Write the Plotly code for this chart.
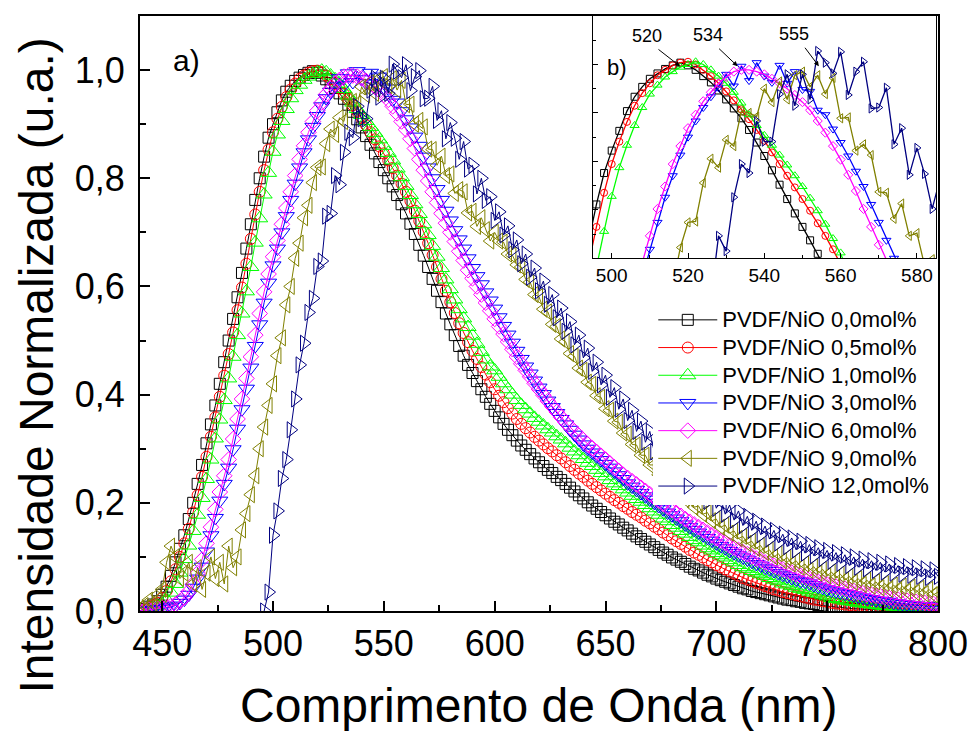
import plotly.graph_objects as go

# Wavelength grid (nm), one sample every 2 nm
wavelength = list(range(440, 801, 2))

# Normalised PL intensity for each NiO content
pvdf_00 = [
    0.000, 0.004, 0.008, 0.012, 0.018, 0.030, 0.045, 0.065, 0.090, 0.115,
    0.140, 0.170, 0.200, 0.235, 0.270, 0.310, 0.345, 0.380, 0.420, 0.460,
    0.500, 0.540, 0.580, 0.625, 0.670, 0.715, 0.760, 0.800, 0.840, 0.875,
    0.900, 0.922, 0.944, 0.960, 0.971, 0.980, 0.986, 0.991, 0.995, 0.998,
    0.995, 0.990, 0.983, 0.976, 0.967, 0.957, 0.947, 0.936, 0.923, 0.909,
    0.894, 0.878, 0.862, 0.846, 0.830, 0.815, 0.800, 0.785, 0.769, 0.752,
    0.735, 0.716, 0.697, 0.677, 0.657, 0.636, 0.614, 0.592, 0.571, 0.550,
    0.530, 0.510, 0.490, 0.472, 0.455, 0.440, 0.425, 0.410, 0.396, 0.383,
    0.370, 0.358, 0.346, 0.335, 0.325, 0.315, 0.306, 0.298, 0.290, 0.282,
    0.275, 0.268, 0.261, 0.255, 0.248, 0.242, 0.235, 0.228, 0.221, 0.214,
    0.208, 0.201, 0.195, 0.189, 0.183, 0.177, 0.171, 0.165, 0.160, 0.154,
    0.149, 0.143, 0.138, 0.133, 0.128, 0.123, 0.118, 0.113, 0.108, 0.104,
    0.099, 0.095, 0.091, 0.087, 0.082, 0.078, 0.075, 0.071, 0.067, 0.064,
    0.060, 0.057, 0.054, 0.051, 0.048, 0.045, 0.042, 0.040, 0.037, 0.035,
    0.033, 0.031, 0.029, 0.027, 0.025, 0.023, 0.021, 0.020, 0.018, 0.017,
    0.015, 0.014, 0.013, 0.011, 0.010, 0.009, 0.008, 0.007, 0.006, 0.005,
    0.005, 0.004, 0.004, 0.003, 0.003, 0.003, 0.002, 0.002, 0.002, 0.002,
    0.002, 0.001, 0.001, 0.001, 0.001, 0.001, 0.001, 0.000, 0.000, 0.000,
    0.000]

pvdf_05 = [
    0.000, 0.003, 0.006, 0.010, 0.015, 0.024, 0.037, 0.055, 0.077, 0.100,
    0.125, 0.152, 0.182, 0.214, 0.248, 0.285, 0.322, 0.358, 0.396, 0.435,
    0.475, 0.515, 0.556, 0.598, 0.642, 0.688, 0.733, 0.775, 0.815, 0.853,
    0.885, 0.910, 0.932, 0.950, 0.964, 0.975, 0.984, 0.990, 0.995, 0.998,
    0.999, 0.996, 0.990, 0.983, 0.975, 0.966, 0.956, 0.946, 0.935, 0.923,
    0.911, 0.898, 0.885, 0.872, 0.859, 0.846, 0.833, 0.819, 0.805, 0.790,
    0.775, 0.758, 0.740, 0.721, 0.701, 0.680, 0.658, 0.636, 0.614, 0.592,
    0.571, 0.551, 0.532, 0.514, 0.497, 0.481, 0.466, 0.451, 0.437, 0.423,
    0.410, 0.398, 0.386, 0.375, 0.365, 0.355, 0.346, 0.338, 0.330, 0.322,
    0.315, 0.308, 0.301, 0.295, 0.288, 0.282, 0.275, 0.268, 0.261, 0.254,
    0.248, 0.241, 0.235, 0.229, 0.223, 0.217, 0.211, 0.205, 0.200, 0.194,
    0.189, 0.183, 0.178, 0.173, 0.167, 0.162, 0.156, 0.151, 0.145, 0.140,
    0.134, 0.129, 0.124, 0.119, 0.113, 0.108, 0.104, 0.099, 0.094, 0.090,
    0.085, 0.081, 0.077, 0.073, 0.069, 0.065, 0.061, 0.058, 0.055, 0.052,
    0.049, 0.046, 0.043, 0.040, 0.038, 0.035, 0.033, 0.031, 0.029, 0.027,
    0.025, 0.023, 0.021, 0.020, 0.018, 0.017, 0.015, 0.014, 0.013, 0.012,
    0.011, 0.010, 0.009, 0.008, 0.007, 0.007, 0.006, 0.006, 0.005, 0.005,
    0.004, 0.004, 0.004, 0.003, 0.003, 0.003, 0.003, 0.002, 0.002, 0.002,
    0.002]

pvdf_10 = [
    0.000, 0.002, 0.004, 0.006, 0.009, 0.013, 0.021, 0.034, 0.050, 0.071,
    0.096, 0.121, 0.148, 0.178, 0.209, 0.244, 0.280, 0.319, 0.354, 0.390,
    0.430, 0.470, 0.510, 0.550, 0.591, 0.636, 0.681, 0.726, 0.770, 0.810,
    0.849, 0.881, 0.906, 0.928, 0.948, 0.963, 0.973, 0.982, 0.988, 0.993,
    0.996, 0.999, 0.996, 0.990, 0.983, 0.975, 0.965, 0.953, 0.940, 0.928,
    0.917, 0.906, 0.895, 0.884, 0.872, 0.860, 0.847, 0.833, 0.818, 0.802,
    0.786, 0.769, 0.752, 0.734, 0.715, 0.695, 0.675, 0.655, 0.634, 0.613,
    0.595, 0.576, 0.558, 0.541, 0.525, 0.509, 0.494, 0.479, 0.465, 0.452,
    0.445, 0.433, 0.421, 0.410, 0.400, 0.390, 0.381, 0.373, 0.365, 0.357,
    0.350, 0.343, 0.336, 0.330, 0.323, 0.317, 0.310, 0.302, 0.295, 0.288,
    0.281, 0.274, 0.268, 0.261, 0.255, 0.249, 0.242, 0.236, 0.231, 0.225,
    0.219, 0.213, 0.207, 0.202, 0.196, 0.190, 0.184, 0.178, 0.171, 0.166,
    0.159, 0.154, 0.148, 0.143, 0.137, 0.131, 0.127, 0.121, 0.116, 0.112,
    0.107, 0.103, 0.099, 0.094, 0.090, 0.085, 0.081, 0.078, 0.074, 0.071,
    0.068, 0.065, 0.061, 0.058, 0.055, 0.051, 0.049, 0.046, 0.043, 0.041,
    0.039, 0.036, 0.034, 0.032, 0.029, 0.027, 0.024, 0.022, 0.021, 0.019,
    0.018, 0.017, 0.015, 0.014, 0.013, 0.012, 0.011, 0.010, 0.009, 0.009,
    0.008, 0.008, 0.008, 0.007, 0.007, 0.006, 0.006, 0.005, 0.005, 0.005,
    0.005]

pvdf_30 = [
    0.000, 0.001, 0.001, 0.002, 0.003, 0.004, 0.006, 0.008, 0.010, 0.015,
    0.021, 0.030, 0.043, 0.060, 0.082, 0.110, 0.140, 0.172, 0.204, 0.235,
    0.265, 0.299, 0.337, 0.373, 0.411, 0.450, 0.490, 0.530, 0.570, 0.607,
    0.639, 0.670, 0.700, 0.730, 0.760, 0.790, 0.820, 0.848, 0.872, 0.895,
    0.915, 0.933, 0.948, 0.960, 0.970, 0.985, 0.972, 0.994, 0.978, 0.998,
    0.983, 0.976, 0.995, 0.975, 0.988, 0.968, 0.966, 0.945, 0.940, 0.924,
    0.909, 0.894, 0.877, 0.860, 0.840, 0.820, 0.800, 0.780, 0.760, 0.740,
    0.722, 0.704, 0.687, 0.670, 0.652, 0.634, 0.619, 0.604, 0.589, 0.574,
    0.559, 0.543, 0.527, 0.511, 0.496, 0.481, 0.466, 0.452, 0.439, 0.426,
    0.413, 0.401, 0.389, 0.377, 0.366, 0.355, 0.345, 0.335, 0.326, 0.317,
    0.308, 0.300, 0.293, 0.286, 0.279, 0.272, 0.265, 0.258, 0.251, 0.244,
    0.236, 0.230, 0.224, 0.218, 0.212, 0.206, 0.200, 0.194, 0.188, 0.182,
    0.177, 0.171, 0.166, 0.160, 0.155, 0.150, 0.145, 0.140, 0.135, 0.130,
    0.125, 0.120, 0.116, 0.111, 0.107, 0.103, 0.099, 0.095, 0.091, 0.087,
    0.084, 0.080, 0.077, 0.074, 0.070, 0.067, 0.064, 0.061, 0.058, 0.055,
    0.054, 0.051, 0.048, 0.045, 0.043, 0.040, 0.038, 0.036, 0.034, 0.032,
    0.031, 0.029, 0.027, 0.025, 0.023, 0.022, 0.020, 0.019, 0.018, 0.017,
    0.015, 0.014, 0.013, 0.012, 0.011, 0.010, 0.009, 0.009, 0.008, 0.008,
    0.008]

pvdf_60 = [
    0.000, 0.001, 0.002, 0.003, 0.004, 0.005, 0.007, 0.009, 0.012, 0.018,
    0.025, 0.036, 0.050, 0.070, 0.095, 0.125, 0.155, 0.188, 0.220, 0.250,
    0.280, 0.318, 0.355, 0.392, 0.430, 0.470, 0.510, 0.550, 0.590, 0.623,
    0.655, 0.685, 0.715, 0.745, 0.775, 0.805, 0.835, 0.860, 0.885, 0.905,
    0.925, 0.940, 0.955, 0.965, 0.975, 0.982, 0.988, 0.990, 0.990, 0.988,
    0.985, 0.980, 0.975, 0.969, 0.962, 0.954, 0.945, 0.933, 0.920, 0.905,
    0.890, 0.873, 0.855, 0.835, 0.815, 0.795, 0.775, 0.755, 0.735, 0.717,
    0.700, 0.683, 0.665, 0.648, 0.630, 0.615, 0.600, 0.585, 0.570, 0.555,
    0.540, 0.526, 0.512, 0.498, 0.484, 0.470, 0.457, 0.445, 0.433, 0.421,
    0.410, 0.399, 0.388, 0.378, 0.368, 0.358, 0.349, 0.340, 0.332, 0.324,
    0.316, 0.308, 0.301, 0.294, 0.287, 0.280, 0.273, 0.266, 0.259, 0.252,
    0.246, 0.240, 0.234, 0.228, 0.222, 0.216, 0.210, 0.204, 0.198, 0.192,
    0.187, 0.181, 0.176, 0.170, 0.165, 0.160, 0.155, 0.150, 0.145, 0.140,
    0.135, 0.130, 0.126, 0.121, 0.117, 0.113, 0.109, 0.105, 0.101, 0.097,
    0.094, 0.090, 0.087, 0.084, 0.080, 0.077, 0.074, 0.071, 0.068, 0.065,
    0.063, 0.060, 0.057, 0.054, 0.052, 0.049, 0.047, 0.045, 0.043, 0.041,
    0.039, 0.037, 0.035, 0.033, 0.031, 0.030, 0.028, 0.027, 0.025, 0.024,
    0.022, 0.021, 0.020, 0.019, 0.018, 0.017, 0.016, 0.015, 0.014, 0.013,
    0.013]

pvdf_90 = [
    0.005, 0.010, 0.020, 0.015, 0.030, 0.040, 0.090, 0.120, 0.100, 0.060,
    0.070, 0.090, 0.050, 0.080, 0.040, 0.070, 0.100, 0.060, 0.090, 0.050,
    0.120, 0.080, 0.100, 0.150, 0.180, 0.215, 0.250, 0.300, 0.340, 0.380,
    0.420, 0.472, 0.505, 0.566, 0.600, 0.652, 0.680, 0.727, 0.750, 0.792,
    0.820, 0.821, 0.864, 0.891, 0.881, 0.912, 0.905, 0.944, 0.942, 0.938,
    0.969, 0.954, 0.977, 0.957, 0.984, 0.988, 0.971, 0.984, 0.963, 0.981,
    0.936, 0.937, 0.900, 0.907, 0.895, 0.854, 0.853, 0.824, 0.841, 0.805,
    0.808, 0.772, 0.779, 0.775, 0.736, 0.739, 0.711, 0.727, 0.705, 0.684,
    0.700, 0.684, 0.682, 0.660, 0.658, 0.640, 0.636, 0.613, 0.608, 0.585,
    0.581, 0.558, 0.553, 0.530, 0.526, 0.503, 0.498, 0.476, 0.471, 0.449,
    0.445, 0.423, 0.419, 0.398, 0.395, 0.374, 0.371, 0.351, 0.349, 0.329,
    0.327, 0.308, 0.307, 0.288, 0.288, 0.270, 0.270, 0.252, 0.253, 0.236,
    0.237, 0.220, 0.222, 0.206, 0.208, 0.192, 0.194, 0.179, 0.182, 0.167,
    0.170, 0.155, 0.159, 0.144, 0.148, 0.134, 0.138, 0.125, 0.129, 0.116,
    0.121, 0.108, 0.113, 0.100, 0.106, 0.093, 0.099, 0.087, 0.093, 0.081,
    0.087, 0.075, 0.082, 0.070, 0.077, 0.065, 0.072, 0.061, 0.068, 0.057,
    0.064, 0.053, 0.060, 0.049, 0.057, 0.046, 0.054, 0.043, 0.051, 0.040,
    0.048, 0.038, 0.046, 0.036, 0.044, 0.034, 0.042, 0.032, 0.040, 0.030,
    0.035]

pvdf_120 = [
    None, None, None, None, None, None, None, None, None, None,
    None, None, None, None, None, None, None, None, None, None,
    None, None, None, None, None, None, None, None, 0.000, 0.035,
    0.140, 0.185, 0.245, 0.280, 0.335, 0.392, 0.455, 0.495, 0.552, 0.578,
    0.637, 0.647, 0.730, 0.735, 0.805, 0.788, 0.848, 0.885, 0.875, 0.933,
    0.910, 0.910, 0.963, 0.985, 0.950, 0.985, 0.957, 1.011, 0.998, 0.986,
    1.010, 0.962, 0.988, 0.999, 0.947, 0.948, 0.970, 0.907, 0.925, 0.873,
    0.903, 0.874, 0.835, 0.868, 0.817, 0.824, 0.771, 0.800, 0.759, 0.766,
    0.722, 0.738, 0.695, 0.712, 0.668, 0.686, 0.642, 0.660, 0.617, 0.634,
    0.592, 0.610, 0.567, 0.585, 0.542, 0.560, 0.517, 0.535, 0.492, 0.510,
    0.468, 0.486, 0.443, 0.460, 0.418, 0.436, 0.395, 0.413, 0.373, 0.392,
    0.352, 0.371, 0.332, 0.351, 0.312, 0.332, 0.294, 0.313, 0.276, 0.295,
    0.259, 0.278, 0.244, 0.262, 0.229, 0.247, 0.215, 0.233, 0.203, 0.220,
    0.190, 0.208, 0.179, 0.196, 0.168, 0.185, 0.158, 0.175, 0.149, 0.166,
    0.141, 0.157, 0.133, 0.149, 0.126, 0.142, 0.119, 0.135, 0.113, 0.129,
    0.107, 0.123, 0.102, 0.117, 0.097, 0.112, 0.092, 0.108, 0.088, 0.104,
    0.084, 0.100, 0.081, 0.096, 0.078, 0.093, 0.075, 0.090, 0.072, 0.087,
    0.070, 0.084, 0.068, 0.082, 0.066, 0.080, 0.064, 0.078, 0.062, 0.076,
    0.064]

series = [pvdf_00, pvdf_05, pvdf_10, pvdf_30, pvdf_60, pvdf_90, pvdf_120]
series_names = ["PVDF/NiO 0,0mol%", "PVDF/NiO 0,5mol%", "PVDF/NiO 1,0mol%",
                "PVDF/NiO 3,0mol%", "PVDF/NiO 6,0mol%", "PVDF/NiO 9,0mol%",
                "PVDF/NiO 12,0mol%"]
colors = ["#000000", "#FF0000", "#00FF00", "#0000FF", "#FF00FF", "#808000", "#000080"]
symbols = ["square-open", "circle-open", "triangle-up-open", "triangle-down-open",
           "diamond-open", "triangle-left-open", "triangle-right-open"]
main_sizes = [11, 11, 14, 14, 12, 14, 14]
inset_sizes = [7, 7, 8, 8, 7, 8, 8]

# Peak labels of the inset
peak_labels = ["520", "534", "555"]
peak_positions = [517.9, 533.0, 554.3]

for s in series:
    assert len(s) == len(wavelength)

FONT = "Liberation Sans, Arial, sans-serif"

fig = go.Figure()

for vals, name, c, sym, sz in zip(series, series_names, colors, symbols, main_sizes):
    fig.add_trace(go.Scatter(
        x=wavelength, y=vals, mode="lines+markers",
        # larger glyphs than the legend line pitch allows by default
        name='<span style="font-size:22px">%s</span>' % name,
        line=dict(color=c, width=1),
        marker=dict(symbol=sym, size=sz, color=c, line=dict(width=1, color=c)),
        xaxis="x", yaxis="y"))

for vals, c, sym, sz in zip(series, colors, symbols, inset_sizes):
    fig.add_trace(go.Scatter(
        x=wavelength, y=vals, mode="lines+markers", showlegend=False,
        line=dict(color=c, width=1.3),
        marker=dict(symbol=sym, size=sz, color=c, line=dict(width=1, color=c)),
        xaxis="x2", yaxis="y2"))

axis_common = dict(showline=True, linecolor="black", mirror=True, showgrid=False,
                   zeroline=False, ticks="inside", tickcolor="black")

fig.update_layout(
    width=980, height=731,
    margin=dict(l=140, r=32, t=16, b=120),
    paper_bgcolor="white", plot_bgcolor="white",
    separators=",.",
    font=dict(family=FONT, color="black"),
    xaxis=dict(domain=[0, 1], range=[440, 800], linewidth=2, tickwidth=2, ticklen=10,
               tick0=450, dtick=50, tickfont=dict(size=36),
               minor=dict(ticks="inside", ticklen=6, tickwidth=2, tickcolor="black",
                          tick0=425, dtick=25),
               **axis_common),
    yaxis=dict(domain=[0, 1], range=[0, 1.1], linewidth=2, tickwidth=2, ticklen=10,
               tick0=0, dtick=0.2, tickformat=".1f", tickfont=dict(size=36),
               ticklabelstandoff=6,
               minor=dict(ticks="inside", ticklen=6, tickwidth=2, tickcolor="black",
                          tick0=0, dtick=0.1),
               **axis_common),
    xaxis2=dict(domain=[0.5672, 0.9975], anchor="y2", range=[495, 585], linewidth=1.3,
                tickwidth=1, ticklen=5, tick0=500, dtick=20, tickfont=dict(size=19),
                minor=dict(ticks="inside", ticklen=3, tickwidth=1, tickcolor="black",
                           tick0=500, dtick=10),
                **axis_common),
    yaxis2=dict(domain=[0.5928, 1.0], anchor="x2", range=[0.78, 1.05], linewidth=1.3,
                tickwidth=1, ticklen=5, tick0=0.78, dtick=0.054, showticklabels=False,
                minor=dict(ticks="inside", ticklen=3, tickwidth=1, tickcolor="black",
                           tick0=0.78, dtick=0.027),
                **axis_common),
    legend=dict(x=0.6432, y=0.521, xanchor="left", yanchor="top", bgcolor="white",
                borderwidth=0, font=dict(family=FONT, size=19, color="black"),
                itemwidth=59, tracegroupgap=0),
    showlegend=True,
)

annotations = [
    dict(text="Comprimento de Onda (nm)", xref="paper", yref="paper", x=0.5, y=-0.158,
         xanchor="center", yanchor="middle", showarrow=False, font=dict(size=48)),
    dict(text="Intensidade Normalizada (u.a.)", xref="paper", yref="paper", x=-0.13,
         y=0.413, xanchor="center", yanchor="middle", textangle=-90, showarrow=False,
         font=dict(size=48)),
    dict(text="a)", xref="paper", yref="paper", x=0.058, y=0.926, xanchor="center",
         yanchor="middle", showarrow=False, font=dict(size=30)),
    dict(text="b)", xref="paper", yref="paper", x=0.598, y=0.914, xanchor="center",
         yanchor="middle", showarrow=False, font=dict(size=22)),
]
label_offsets = [(-23, -18), (-20, -19), (-15, -20)]
for lab, pos, (ax, ay) in zip(peak_labels, peak_positions, label_offsets):
    annotations.append(dict(text="", x=pos, y=0.994, xref="x2", yref="y2", showarrow=True,
                            ax=ax, ay=ay, arrowhead=2, arrowsize=1, arrowwidth=1,
                            arrowcolor="black"))
    annotations.append(dict(text=lab, x=pos, y=0.994, xref="x2", yref="y2", showarrow=False,
                            xshift=ax - 10, yshift=-ay + 12, font=dict(size=18)))
fig.update_layout(annotations=annotations)

fig.write_html("out.html")
